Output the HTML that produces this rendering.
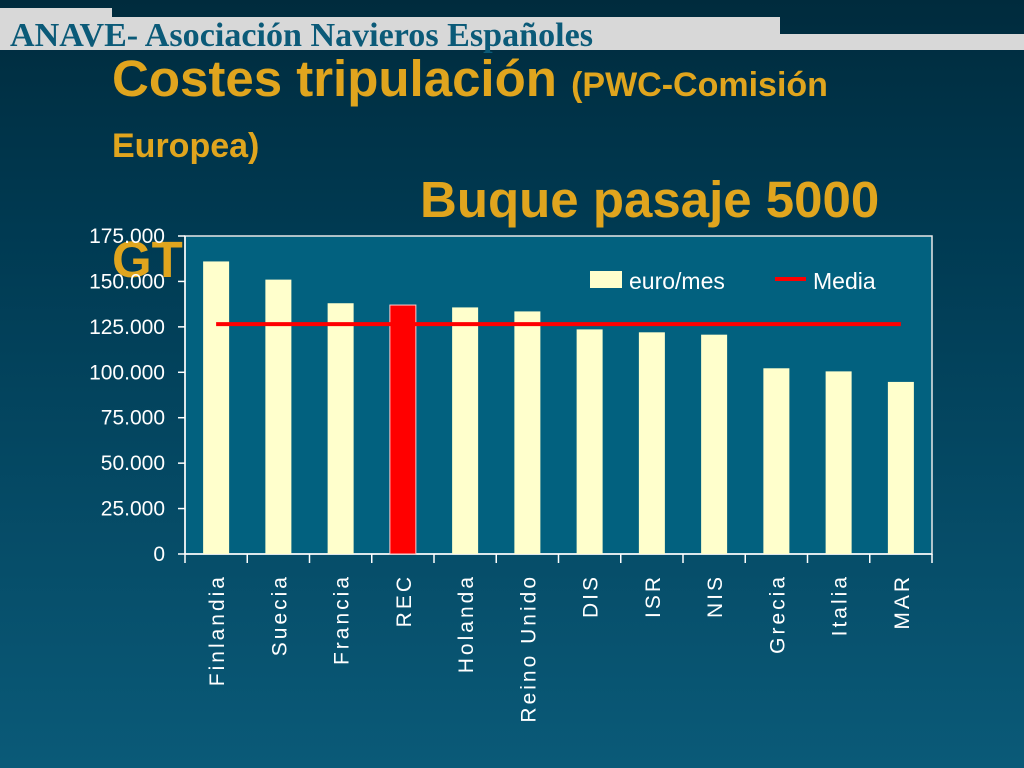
<!DOCTYPE html>
<html><head><meta charset="utf-8"><style>
html,body{margin:0;padding:0;width:1024px;height:768px;overflow:hidden}
body{background:linear-gradient(to bottom,#002b3d 0%,#003a52 30%,#0a5a78 100%);font-family:"Liberation Sans",sans-serif;position:relative}
</style></head><body>
<div style="position:absolute;left:0;top:8px;width:112px;height:10px;background:#d8d8d8"></div>
<div style="position:absolute;left:0;top:17px;width:780px;height:33px;background:#d8d8d8"></div>
<div style="position:absolute;left:780px;top:34px;width:244px;height:16px;background:#d8d8d8"></div>
<svg id="chart" width="1024" height="768" style="position:absolute;left:0;top:0">
<text x="10" y="46" font-family="Liberation Serif, serif" font-weight="bold" font-size="34" fill="#0b5a78" textLength="583" lengthAdjust="spacingAndGlyphs">ANAVE- Asociación Navieros Españoles</text>
<g font-family="Liberation Sans, sans-serif" font-weight="bold" fill="#e0a51e">
<text x="112" y="96" font-size="51">Costes tripulación <tspan font-size="34">(PWC-Comisión</tspan></text>
<text x="112" y="157" font-size="34">Europea)</text>
<text x="420" y="217" font-size="51">Buque pasaje 5000</text>
<text x="112" y="277" font-size="51">GT</text>
</g>
</svg>
<script>
const categories=["Finlandia","Suecia","Francia","REC","Holanda","Reino Unido","DIS","ISR","NIS","Grecia","Italia","MAR"];
const values=[161000,151000,138000,137000,135700,133500,123600,122000,120700,102200,100500,94700];
const mediaValue=126500;
const yTicks=[0,25000,50000,75000,100000,125000,150000,175000];
const yTickLabels=["0","25.000","50.000","75.000","100.000","125.000","150.000","175.000"];
const highlight="REC";
const svg=document.getElementById('chart');
const NS="http://www.w3.org/2000/svg";
const L=185,R=932,T=236,B=554,yMax=175000;
const cw=(R-L)/categories.length, bw=26;
const y=v=>B-(v/yMax)*(B-T);
const xc=i=>L+cw*(i+0.5);
function mk(tag,attrs,before){const e=document.createElementNS(NS,tag);for(const k in attrs)e.setAttribute(k,attrs[k]);if(before)svg.insertBefore(e,svg.firstChild);else svg.appendChild(e);return e;}
let bg=mk('rect',{x:L,y:T,width:R-L,height:B-T,fill:'#02617f',stroke:'#e8e8e8','stroke-width':1.5},true);


let ax=mk('line',{x1:L,y1:T,x2:L,y2:B,stroke:'#fff','stroke-width':1.5});


let xa=mk('line',{x1:L,y1:B,x2:R,y2:B,stroke:'#fff','stroke-width':1.5});


yTicks.forEach((v,i)=>{
  let tk=mk('line',{x1:L-7,y1:y(v),x2:L,y2:y(v),stroke:'#fff','stroke-width':1.5});
  
  
  let t=mk('text',{x:L-20,y:y(v)+7,'text-anchor':'end',fill:'#fff','font-size':21,'font-family':'Liberation Sans, sans-serif'});
  t.textContent=yTickLabels[i];
  
  
});
for(let i=0;i<=categories.length;i++){
  let tk=mk('line',{x1:L+cw*i,y1:B,x2:L+cw*i,y2:B+9,stroke:'#fff','stroke-width':1.5});
  
  
}
categories.forEach((c,i)=>{
  const hi=c===highlight;
  let r=mk('rect',{x:xc(i)-bw/2,y:y(values[i]),width:bw,height:B-y(values[i]),fill:hi?'#ff0000':'#ffffcc',stroke:hi?'#ffcccc':'none','stroke-width':1});
  
  
  let t=mk('text',{x:0,y:0,'text-anchor':'end',fill:'#fff','font-size':21,'letter-spacing':3,'font-family':'Liberation Sans, sans-serif',transform:`translate(${xc(i)+8},574) rotate(-90)`});
  t.textContent=c;
  
  
});
let m=mk('line',{x1:xc(0),y1:y(mediaValue),x2:xc(categories.length-1),y2:y(mediaValue),stroke:'#ff0000','stroke-width':4});


let ls=mk('rect',{x:590,y:271,width:32,height:17,fill:'#ffffcc'});


let lt=mk('text',{x:629,y:289,fill:'#fff','font-size':23,'font-family':'Liberation Sans, sans-serif'});
lt.textContent='euro/mes';


let ll=mk('line',{x1:775,y1:279,x2:806,y2:279,stroke:'#ff0000','stroke-width':4});


let lt2=mk('text',{x:813,y:289,fill:'#fff','font-size':23,'font-family':'Liberation Sans, sans-serif'});
lt2.textContent='Media';


</script>
</body></html>
